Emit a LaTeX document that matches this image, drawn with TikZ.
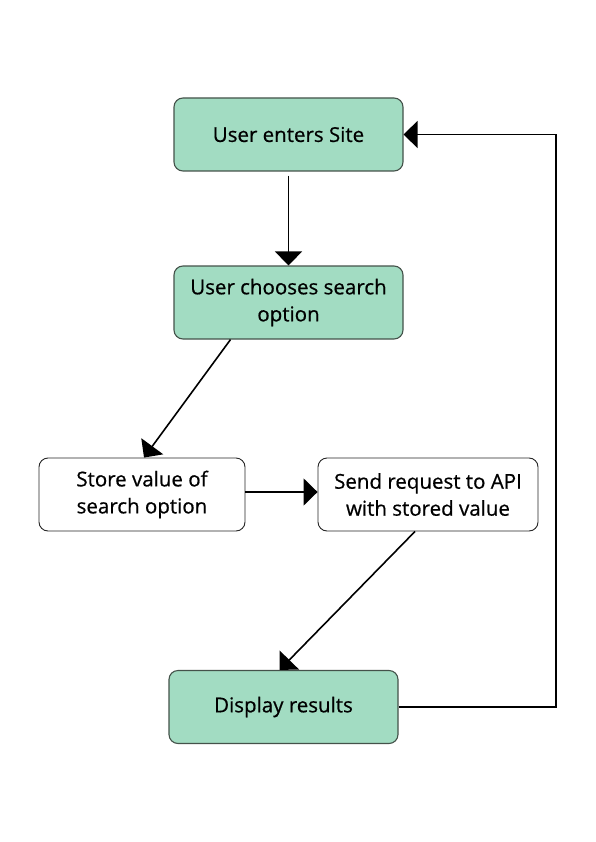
\documentclass[tikz,border=0pt]{standalone}
\usepackage{fontspec}
\setmainfont{Open Sans}
\newfontfamily\boxfont{Open Sans}[FakeBold=0.6]
\usepackage{tikz}
\usetikzlibrary{arrows.meta, positioning, calc}

\definecolor{boxgreen}{HTML}{A2DCC2}
\definecolor{boxline}{HTML}{44524A}

\tikzset{
  greenbox/.style={draw=boxline, fill=boxgreen, line width=1.1pt, rounded corners=9pt,
    minimum width=229pt, minimum height=73pt, align=center, font=\boxfont\fontsize{20.5}{27}\selectfont},
  whitebox/.style={draw=black!85, fill=white, line width=0.9pt, rounded corners=9pt,
    minimum height=73pt, align=center, font=\boxfont\fontsize{20.5}{27}\selectfont},
  flow/.style={draw=black, line width=1.6pt, -{Triangle[length=14pt, width=27pt]}}
}

\begin{document}
\begin{tikzpicture}[x=1pt, y=-1pt]

\useasboundingbox (0, 0) rectangle (595, 842);

% nodes
\node [greenbox] (enter) at (288.5, 134.5) {User enters Site};
\node [greenbox] (choose) at (288.5, 302.5) {User chooses search\\option};
\node [whitebox, minimum width=206pt] (store) at (142, 494.5) {Store value of\\search option};
\node [whitebox, minimum width=220pt] (send) at (428, 494.5) {Send request to API\\with stored value};
\node [greenbox] (display) at (283.5, 707) {Display results};

\coordinate (corner1) at (556, 707);
\coordinate (corner2) at (556, 134.5);

% arrows
\draw [flow, shorten <=4pt] (enter.south) -- (choose.north);
\draw [flow] ($(choose.south)+(-58, 0)$) -- ($(store.north)+(2, 0)$);
\draw [flow] (store.east |- 0, 492) -- (send.west |- 0, 492);
\draw [flow] ($(send.south)+(-13, 0)$) -- ($(display.north)+(-4, 0)$);
\draw [flow] (display.east) -- (corner1) -- (corner2) -- (enter.east);

\end{tikzpicture}
\end{document}
